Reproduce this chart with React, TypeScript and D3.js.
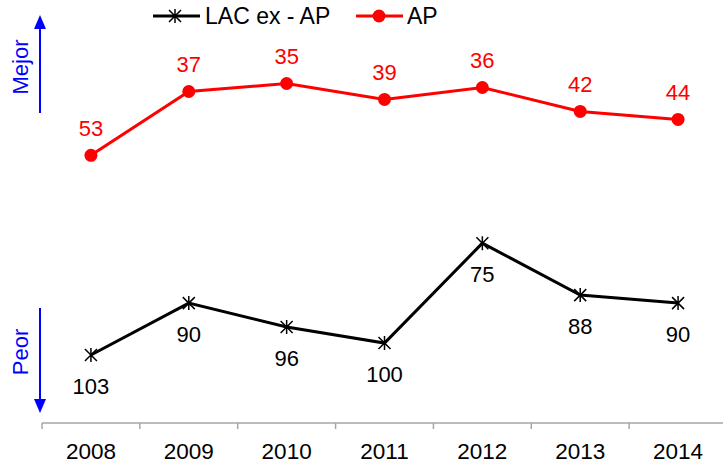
import React from "react";
import * as d3 from "d3";

const years = ["2008", "2009", "2010", "2011", "2012", "2013", "2014"];
const lacValues = [103, 90, 96, 100, 75, 88, 90];
const apValues = [53, 37, 35, 39, 36, 42, 44];
const seriesNames = ["LAC ex - AP", "AP"];
const sideLabels = ["Mejor", "Peor"];

const W = 723;
const H = 464;
const FONT = "'Liberation Sans', Arial, sans-serif";

export default function App() {
  const x = d3.scaleBand<string>().domain(years).range([42, 727]).padding(0);
  const y = d3.scaleLinear().domain([35, 103]).range([83.5, 355]);
  const cx = (d: string) => (x(d) as number) + x.bandwidth() / 2;
  const axisY = 423;

  const line = d3
    .line<number>()
    .x((_, i) => cx(years[i]))
    .y((v) => y(v));

  const star = "M-6,-6L6,6M-6,6L6,-6M0,-7L0,7";

  const ticks = d3.range(years.length + 1).map((i) => 42 + i * x.bandwidth());

  return (
    <svg
      width={W}
      height={H}
      style={{ position: "absolute", left: 0, top: 0, background: "#fff" }}
      fontFamily={FONT}
    >
      {/* x axis */}
      <line x1={42} x2={W} y1={axisY} y2={axisY} stroke="#A6A6A6" strokeWidth={1.5} />
      {ticks.map((t, i) => (
        <line key={i} x1={t} x2={t} y1={axisY} y2={axisY + 6} stroke="#A6A6A6" strokeWidth={1.5} />
      ))}
      {years.map((yr) => (
        <text key={yr} x={cx(yr)} y={458.5} textAnchor="middle" fontSize={22.5} fill="#000">
          {yr}
        </text>
      ))}

      {/* Mejor / Peor arrows */}
      <line x1={40} x2={40} y1={113} y2={28} stroke="#0000FF" strokeWidth={2} />
      <path d="M34,29L40,15L46,29Z" fill="#0000FF" />
      <line x1={40} x2={40} y1={308} y2={400} stroke="#0000FF" strokeWidth={2} />
      <path d="M34,399L40,413L46,399Z" fill="#0000FF" />
      <text transform="translate(27.5,67) rotate(-90)" textAnchor="middle" fontSize={22} fill="#0000FF">
        {sideLabels[0]}
      </text>
      <text transform="translate(27.5,352) rotate(-90)" textAnchor="middle" fontSize={22} fill="#0000FF">
        {sideLabels[1]}
      </text>

      {/* AP series */}
      <path d={line(apValues) || ""} fill="none" stroke="#FF0000" strokeWidth={3} />
      {apValues.map((v, i) => (
        <g key={i}>
          <circle cx={cx(years[i])} cy={y(v)} r={6.5} fill="#FF0000" />
          <text x={cx(years[i])} y={y(v) - 19.5} textAnchor="middle" fontSize={22} fill="#FF0000">
            {v}
          </text>
        </g>
      ))}

      {/* LAC series */}
      <path d={line(lacValues) || ""} fill="none" stroke="#000" strokeWidth={3} />
      {lacValues.map((v, i) => (
        <g key={i}>
          <path d={star} transform={`translate(${cx(years[i])},${y(v)})`} stroke="#000" strokeWidth={1.5} fill="none" />
          <text x={cx(years[i])} y={y(v) + 39} textAnchor="middle" fontSize={22} fill="#000">
            {v}
          </text>
        </g>
      ))}

      {/* legend */}
      <line x1={153} x2={200} y1={16} y2={16} stroke="#000" strokeWidth={3} />
      <path d={star} transform="translate(175,16)" stroke="#000" strokeWidth={1.5} fill="none" />
      <text x={205} y={24} fontSize={23} fill="#000">{seriesNames[0]}</text>
      <line x1={356} x2={403} y1={16} y2={16} stroke="#FF0000" strokeWidth={3} />
      <circle cx={379} cy={16} r={6.5} fill="#FF0000" />
      <text x={407} y={24} fontSize={23} fill="#000">{seriesNames[1]}</text>
    </svg>
  );
}
